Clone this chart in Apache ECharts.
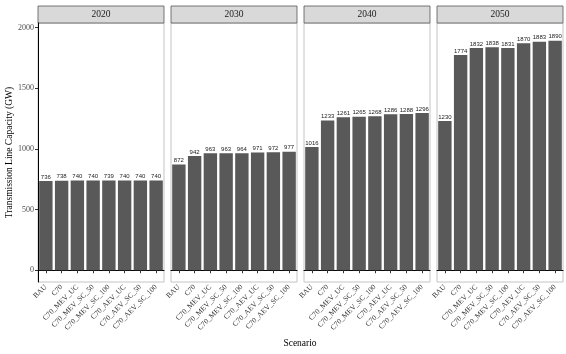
<!DOCTYPE html>
<html>
<head>
<meta charset="utf-8">
<script src="https://cdn.jsdelivr.net/npm/echarts@6/dist/echarts.min.js"></script>
<style>
  html, body { margin: 0; padding: 0; background: #fff; }
  #chart { width: 566px; height: 354px; }
</style>
</head>
<body>
<div id="chart"></div>
<script>
// data
var scenarios = ['BAU', 'C70', 'C70_MEV_UC', 'C70_MEV_SC_50', 'C70_MEV_SC_100',
  'C70_AEV_UC', 'C70_AEV_SC_50', 'C70_AEV_SC_100'];
var years = ['2020', '2030', '2040', '2050'];
var cap2020 = [736, 738, 740, 740, 739, 740, 740, 740];
var cap2030 = [872, 942, 963, 963, 964, 971, 972, 977];
var cap2040 = [1016, 1233, 1261, 1265, 1268, 1286, 1288, 1296];
var cap2050 = [1230, 1774, 1832, 1838, 1831, 1870, 1883, 1890];
var yTicks = [0, 500, 1000, 1500, 2000];

var values = [cap2020, cap2030, cap2040, cap2050];
var serif = '"Liberation Serif", "DejaVu Serif", serif';

var chart = echarts.init(document.getElementById('chart'));

var panelLeft = [38, 171, 304, 437];
var panelW = 126, panelTop = 23, panelH = 259;

var grids = [], xAxes = [], yAxes = [], series = [], graphics = [];

years.forEach(function (yr, i) {
  grids.push({
    left: panelLeft[i], top: panelTop, width: panelW, height: panelH,
    show: true, borderColor: '#c4c4c4', borderWidth: 1, backgroundColor: '#fff'
  });
  xAxes.push({
    type: 'category', gridIndex: i, data: scenarios,
    axisLine: { show: true, lineStyle: { color: '#000', width: 1 } },
    axisTick: { show: true, alignWithLabel: true, length: 3, lineStyle: { color: '#333' } },
    axisLabel: {
      interval: 0, rotate: 45, fontFamily: serif, fontSize: 7.5, color: '#333', margin: 4
    }
  });
  yAxes.push({
    type: 'value', gridIndex: i, min: -97, max: 2037,
    splitLine: { show: false },
    axisLine: { show: i === 0, lineStyle: { color: '#000', width: 1 } },
    axisTick: { show: i === 0, customValues: yTicks, length: 3, lineStyle: { color: '#333' } },
    axisLabel: {
      show: i === 0, customValues: yTicks, fontFamily: serif, fontSize: 8,
      color: '#4d4d4d', margin: 4,
      formatter: function (v) { return String(v); }
    },
    name: i === 0 ? 'Transmission Line Capacity (GW)' : '',
    nameLocation: 'middle', nameGap: 21,
    nameTextStyle: { fontFamily: serif, fontSize: 9.5, color: '#000' }
  });
  series.push({
    type: 'bar', xAxisIndex: i, yAxisIndex: i, data: values[i],
    barCategoryGap: '15%',
    itemStyle: { color: '#595959' },
    label: {
      show: true, position: 'top', distance: 1, fontSize: 6,
      fontFamily: '"Liberation Sans", Arial, sans-serif', color: '#222'
    },
    silent: true, animation: false
  });
  graphics.push({
    type: 'rect',
    shape: { x: panelLeft[i], y: 6, width: panelW, height: 17 },
    style: { fill: '#d9d9d9', stroke: '#555', lineWidth: 0.8 }
  });
  graphics.push({
    type: 'text', x: panelLeft[i] + panelW / 2, y: 14.5,
    style: {
      text: yr, fontFamily: serif, fontSize: 9.5, fill: '#1a1a1a',
      align: 'center', verticalAlign: 'middle'
    }
  });
});

graphics.push({
  type: 'text', x: 300, y: 343,
  style: {
    text: 'Scenario', fontFamily: serif, fontSize: 9.5, fill: '#000',
    align: 'center', verticalAlign: 'middle'
  }
});

chart.setOption({
  animation: false,
  grid: grids,
  xAxis: xAxes,
  yAxis: yAxes,
  series: series,
  graphic: graphics
});
</script>
</body>
</html>
